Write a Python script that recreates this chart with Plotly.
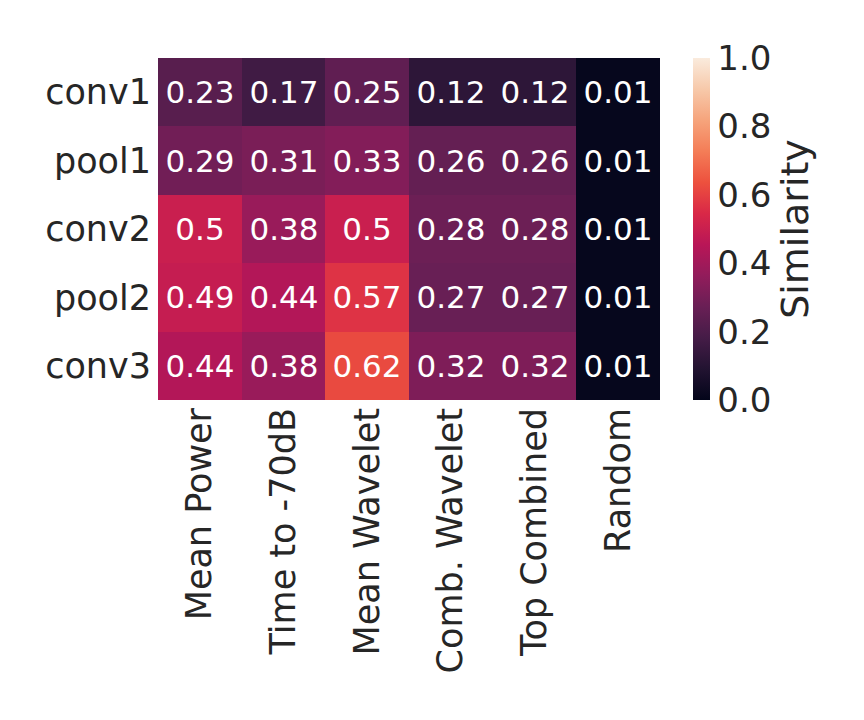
import plotly.graph_objects as go

# Heatmap data (rows = layers, columns = feature type)
layers = ["conv1", "pool1", "conv2", "pool2", "conv3"]
features = ["Mean Power", "Time to -70dB", "Mean Wavelet", "Comb. Wavelet", "Top Combined", "Random"]
conv1 = [0.23, 0.17, 0.25, 0.12, 0.12, 0.01]
pool1 = [0.29, 0.31, 0.33, 0.26, 0.26, 0.01]
conv2 = [0.50, 0.38, 0.50, 0.28, 0.28, 0.01]
pool2 = [0.49, 0.44, 0.57, 0.27, 0.27, 0.01]
conv3 = [0.44, 0.38, 0.62, 0.32, 0.32, 0.01]

z = [conv1, pool1, conv2, pool2, conv3]
# seaborn style ".2g" annotation
labels = [[f"{v:.2g}" for v in row] for row in z]

# approximation of seaborn's "rocket" colormap
rocket = [
    [0.0, "#03051a"],
    [1 / 11, "#221331"],
    [2 / 11, "#451c47"],
    [3 / 11, "#691f55"],
    [4 / 11, "#921c5b"],
    [5 / 11, "#b91657"],
    [6 / 11, "#d92847"],
    [7 / 11, "#ed513e"],
    [8 / 11, "#f47d57"],
    [9 / 11, "#f6a47c"],
    [10 / 11, "#f7c9aa"],
    [1.0, "#faebdd"],
]

text_color = "#262626"

fig = go.Figure(go.Heatmap(
    z=z,
    x=features,
    y=layers,
    text=labels,
    texttemplate="%{text}",
    textfont=dict(size=31, color="white", family="DejaVu Sans"),
    colorscale=rocket,
    zmin=0, zmax=1,
    xgap=0, ygap=0,
    colorbar=dict(
        title=dict(text="Similarity", side="right", font=dict(size=38, color=text_color)),
        tickvals=[0, 0.2, 0.4, 0.6, 0.8, 1.0],
        ticktext=["0.0", "0.2", "0.4", "0.6", "0.8", "1.0"],
        tickfont=dict(size=34, color=text_color),
        ticks="",
        outlinewidth=0,
        thickness=17,
        len=1, lenmode="fraction",
        x=1.0657, xanchor="left", xpad=0,
        y=0.5, yanchor="middle", ypad=0,
    ),
))

fig.update_xaxes(
    tickangle=-90,
    tickfont=dict(size=35, color=text_color),
    showgrid=False, zeroline=False, ticks="", ticklabelstandoff=0,
)
fig.update_yaxes(
    autorange="reversed",
    tickfont=dict(size=35, color=text_color),
    showgrid=False, zeroline=False, ticks="", ticklabelstandoff=6,
)

# page body adds 8px offset, so margins are shifted by that amount
fig.update_layout(
    width=864, height=720,
    margin=dict(l=150, r=212, t=50, b=328),
    paper_bgcolor="white",
    plot_bgcolor="white",
    font=dict(family="DejaVu Sans", color=text_color),
)

fig.write_html("out.html")
